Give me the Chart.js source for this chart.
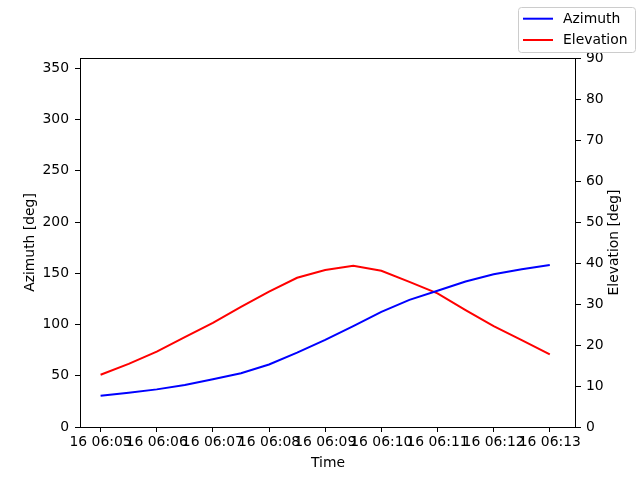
<!DOCTYPE html>
<html>
<head>
<meta charset="utf-8">
<script src="https://cdn.jsdelivr.net/npm/chart.js@4.4.1/dist/chart.umd.min.js"></script>
<style>
  html, body { margin: 0; padding: 0; background: #fff; }
  canvas { display: block; }
</style>
</head>
<body>
<canvas id="pass-chart" width="640" height="480"></canvas>
<script>
// --- data (seconds after 06:05:00) ---
const sampleSeconds = [0, 30, 60, 90, 120, 150, 180, 210, 240, 270, 300, 330, 360, 390, 420, 450, 480];
const azimuthDeg = [30.5, 33.5, 36.7, 41, 46.5, 52.5, 61, 72.5, 85, 98.5, 112.4, 124, 133, 142, 149, 154, 158];
const elevationDeg = [12.75, 15.4, 18.4, 21.9, 25.4, 29.3, 33, 36.4, 38.3, 39.3, 38.1, 35.4, 32.6, 28.5, 24.6, 21.2, 17.7];

const timeTickSeconds = [0, 60, 120, 180, 240, 300, 360, 420, 480];
const timeTickLabels = ['16 06:05', '16 06:06', '16 06:07', '16 06:08', '16 06:09', '16 06:10', '16 06:11', '16 06:12', '16 06:13'];
const azimuthTicks = [0, 50, 100, 150, 200, 250, 300, 350];
const elevationTicks = [0, 10, 20, 30, 40, 50, 60, 70, 80, 90];

const seriesNames = ['Azimuth', 'Elevation'];
const seriesColors = ['#0000ff', '#ff0000'];

const FONT = { family: 'DejaVu Sans', size: 13.9 };
Chart.defaults.font.family = FONT.family;
Chart.defaults.font.size = FONT.size;
Chart.defaults.color = '#000';

const points = vals => sampleSeconds.map((s, i) => ({ x: s, y: vals[i] }));
const fixedTicks = list => scale => { scale.ticks = list.map(v => ({ value: v })); };

// box round the plot, twin-axis style
const framePlugin = {
    id: 'frame',
    afterDatasetsDraw(chart) {
        const { ctx, chartArea: a } = chart;
        ctx.save();
        ctx.strokeStyle = '#000';
        ctx.lineWidth = 1;
        ctx.strokeRect(Math.round(a.left) + 0.5, Math.round(a.top) + 0.5,
                       Math.round(a.right - a.left) - 1, Math.round(a.bottom - a.top));
        ctx.restore();
    }
};

// right axis title reads bottom-to-top, plus the figure legend in the corner
const extrasPlugin = {
    id: 'extras',
    afterDraw(chart) {
        const { ctx } = chart;
        ctx.save();
        ctx.font = `${FONT.size}px "${FONT.family}"`;
        ctx.fillStyle = '#000';

        ctx.translate(614.5, 242.5);
        ctx.rotate(-Math.PI / 2);
        ctx.textAlign = 'center';
        ctx.textBaseline = 'middle';
        ctx.fillText('Elevation [deg]', 0, 0);
        ctx.setTransform(1, 0, 0, 1, 0, 0);

        // legend box
        ctx.beginPath();
        ctx.roundRect(518.5, 7.5, 117, 45, 3);
        ctx.fillStyle = 'rgba(255,255,255,0.8)';
        ctx.fill();
        ctx.strokeStyle = '#cccccc';
        ctx.stroke();

        ctx.textAlign = 'left';
        ctx.lineWidth = 2;
        seriesNames.forEach((name, i) => {
            const y = 18.7 + i * 21.3;
            ctx.strokeStyle = seriesColors[i];
            ctx.beginPath();
            ctx.moveTo(523, y);
            ctx.lineTo(553, y);
            ctx.stroke();
            ctx.fillStyle = '#000';
            ctx.fillText(name, 563, y + 0.5);
        });
        ctx.restore();
    }
};

const tickGrid = { display: true, drawOnChartArea: false, tickLength: 5, color: '#000', tickColor: '#000' };

new Chart(document.getElementById('pass-chart'), {
    type: 'line',
    data: {
        datasets: [
            { label: seriesNames[0], data: points(azimuthDeg), yAxisID: 'yAz',
              borderColor: seriesColors[0], borderWidth: 2, pointRadius: 0, tension: 0, fill: false },
            { label: seriesNames[1], data: points(elevationDeg), yAxisID: 'yEl',
              borderColor: seriesColors[1], borderWidth: 2, pointRadius: 0, tension: 0, fill: false }
        ]
    },
    options: {
        responsive: false,
        animation: false,
        devicePixelRatio: 1,
        layout: { padding: { top: 58, left: 18, right: 13, bottom: 4 } },
        plugins: { legend: { display: false }, tooltip: { enabled: false } },
        scales: {
            x: {
                type: 'linear', min: -22, max: 508,
                afterBuildTicks: fixedTicks(timeTickSeconds),
                afterFit: s => { s.height = 49; },
                ticks: { autoSkip: false, maxRotation: 0, padding: 2,
                         callback: v => timeTickLabels[timeTickSeconds.indexOf(v)] },
                grid: tickGrid,
                border: { display: false },
                title: { display: true, text: 'Time' }
            },
            yAz: {
                type: 'linear', position: 'left', min: 0, max: 360,
                afterBuildTicks: fixedTicks(azimuthTicks),
                afterFit: s => { s.width = 62; },
                ticks: { padding: 6 },
                grid: tickGrid,
                border: { display: false },
                title: { display: true, text: 'Azimuth [deg]' }
            },
            yEl: {
                type: 'linear', position: 'right', min: 0, max: 90,
                afterBuildTicks: fixedTicks(elevationTicks),
                afterFit: s => { s.width = 51; },
                ticks: { padding: 5 },
                grid: tickGrid,
                border: { display: false }
            }
        }
    },
    plugins: [framePlugin, extrasPlugin]
});
</script>
</body>
</html>
